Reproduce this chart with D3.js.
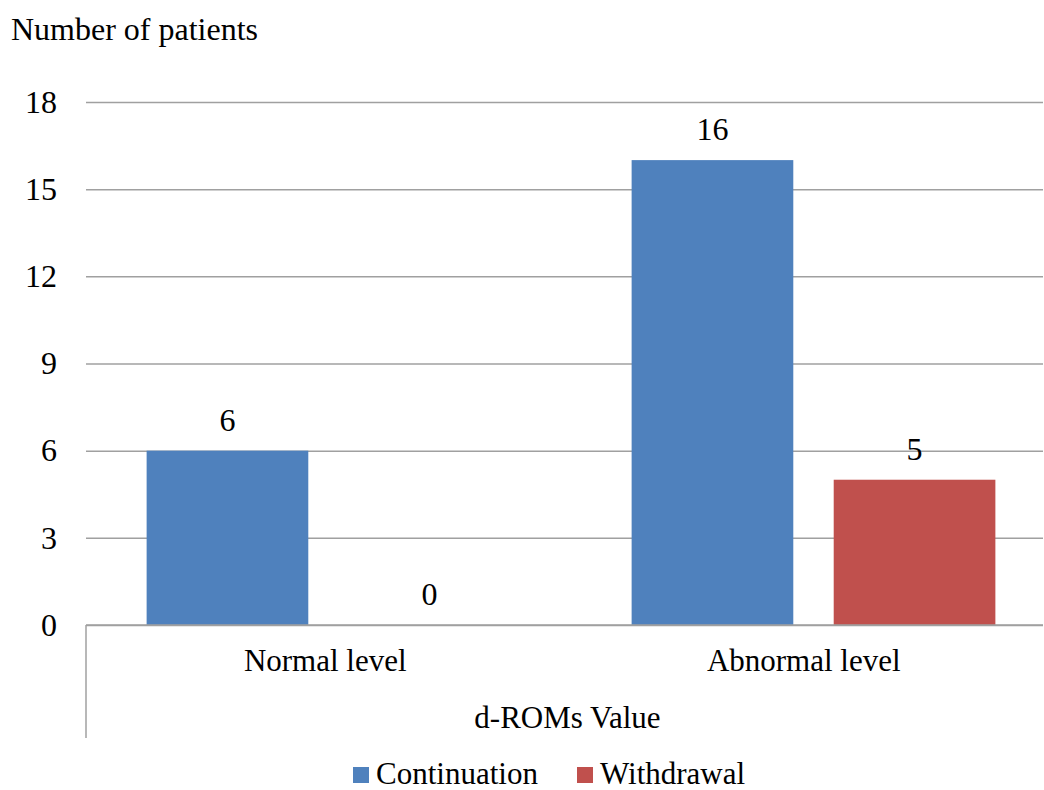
<!DOCTYPE html>
<html>
<head>
<meta charset="utf-8">
<script src="https://cdn.jsdelivr.net/npm/d3@7"></script>
<style>
  html, body { margin: 0; padding: 0; background: #fff; }
  svg text { font-family: "Liberation Serif", "Times New Roman", Times, "DejaVu Serif", serif !important; fill: #000; }
</style>
</head>
<body>
<svg id="chart" width="1044" height="790"></svg>
<script>
// chart data
const categories = ['Normal level', 'Abnormal level'];
const seriesNames = ['Continuation', 'Withdrawal'];
const continuation = [6, 16];
const withdrawal = [0, 5];
const yTicks = [0, 3, 6, 9, 12, 15, 18];
const colors = ['#4F81BD', '#C0504D'];

const GRID = '#a0a0a0';
const FONT = '"Liberation Serif", "Times New Roman", Times, "DejaVu Serif", serif';

let svg = d3.select('svg#chart').attr('font-family', FONT);

// plot area
let plotLeft = 86, plotRight = 1043, plotTop = 102, plotBottom = 625;

let y = d3.scaleLinear().domain([0, 18]).range([plotBottom, plotTop]);

// bar groups (excel leaves the group a bit right of the label slot)
let x0 = d3.scaleBand().domain(categories).range([plotLeft, 1056])
  .paddingInner(0.25).paddingOuter(0.125);
let x1 = d3.scaleBand().domain(seriesNames).range([0, x0.bandwidth()])
  .paddingInner(0.2);
// label slots
let xLab = d3.scaleBand().domain(categories).range([plotLeft, plotRight]);

// gridlines + y labels
let yAxis = svg.append('g')
  .attr('transform', `translate(${plotLeft},0)`)
  .call(d3.axisLeft(y).tickValues(yTicks).tickSize(-(plotRight - plotLeft)).tickPadding(29));
yAxis.attr('font-family', FONT);
yAxis.select('.domain').remove();
yAxis.selectAll('.tick line').attr('stroke', GRID).attr('stroke-width', 1.5);
yAxis.selectAll('.tick text')
  .attr('font-size', 32)
  .attr('fill', '#000');

let rows = categories.map((c, i) => ({ cat: c, values: [continuation[i], withdrawal[i]] }));

let groups = svg.append('g').selectAll('g')
  .data(rows)
  .join('g')
  .attr('transform', d => `translate(${x0(d.cat)},0)`);

groups.selectAll('rect')
  .data(d => d.values.map((v, j) => ({ name: seriesNames[j], v, j })))
  .join('rect')
  .attr('x', d => x1(d.name))
  .attr('width', x1.bandwidth())
  .attr('y', d => y(d.v))
  .attr('height', d => y(0) - y(d.v))
  .attr('fill', d => colors[d.j]);

groups.selectAll('text')
  .data(d => d.values.map((v, j) => ({ name: seriesNames[j], v })))
  .join('text')
  .attr('x', d => x1(d.name) + x1.bandwidth() / 2)
  .attr('y', d => y(d.v) - 20)
  .attr('text-anchor', 'middle')
  .attr('font-size', 32)
  .text(d => d.v);

// baseline + left bracket of the category axis
svg.append('line')
  .attr('x1', plotLeft).attr('x2', plotRight)
  .attr('y1', plotBottom).attr('y2', plotBottom)
  .attr('stroke', GRID).attr('stroke-width', 1.5);
svg.append('line')
  .attr('x1', plotLeft).attr('x2', plotLeft)
  .attr('y1', plotBottom).attr('y2', 738)
  .attr('stroke', GRID).attr('stroke-width', 1.5);

// category labels
svg.append('g').selectAll('text')
  .data(categories)
  .join('text')
  .attr('x', d => xLab(d) + xLab.bandwidth() / 2)
  .attr('y', 671)
  .attr('text-anchor', 'middle')
  .attr('font-size', 31)
  .text(d => d);

svg.append('text')
  .attr('x', (plotLeft + plotRight) / 2 + 3)
  .attr('y', 728)
  .attr('text-anchor', 'middle')
  .attr('font-size', 31)
  .text('d-ROMs Value');

// y title
svg.append('text')
  .attr('x', 11)
  .attr('y', 40)
  .attr('font-size', 32)
  .text('Number of patients');

// legend
let legendX = [353, 577];
let legend = svg.append('g').selectAll('g')
  .data(seriesNames)
  .join('g')
  .attr('transform', (d, i) => `translate(${legendX[i]},767)`);
legend.append('rect')
  .attr('width', 16).attr('height', 16)
  .attr('fill', (d, i) => colors[i]);
legend.append('text')
  .attr('x', 23)
  .attr('y', 17)
  .attr('font-size', 31)
  .text(d => d);
</script>
</body>
</html>
